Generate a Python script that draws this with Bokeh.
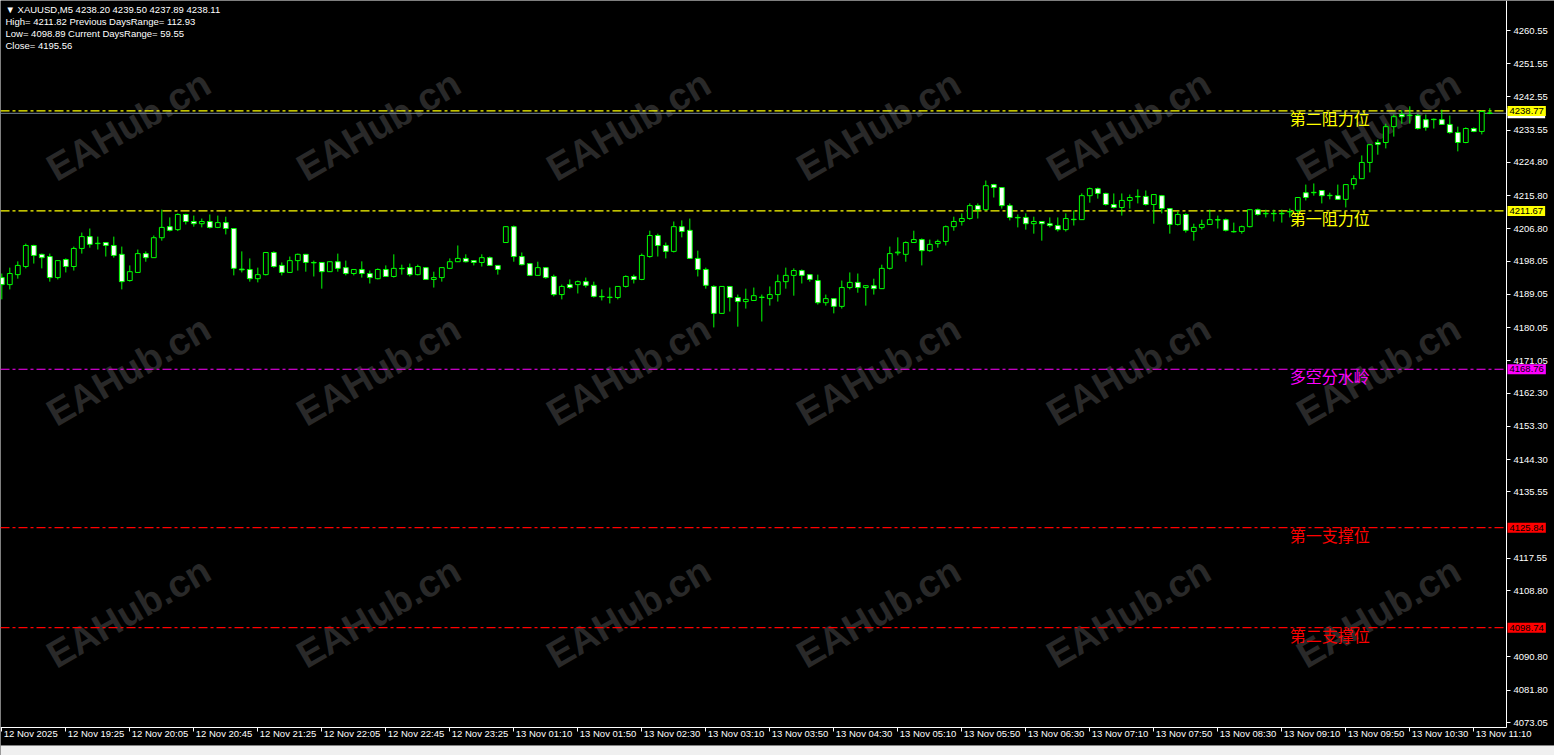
from bokeh.plotting import figure
from bokeh.models import (ColumnDataSource, FixedTicker, Label, LabelSet, Range1d,
                          PrintfTickFormatter, LinearAxis, BoxAnnotation)
from bokeh.core.properties import value
from bokeh.embed import file_html
from bokeh.resources import INLINE

# ---------------- data (XAUUSD, M5) ----------------
open_ = [
    4193.6, 4191.7, 4194.4, 4196.6, 4202.3, 4199.9, 4199.3, 4193.6, 4198.5, 4196.6,
    4201.5, 4204.7, 4202.8, 4203.1, 4202.3, 4199.9, 4192.8, 4195.0, 4200.1, 4199.0,
    4204.4, 4207.4, 4206.6, 4210.7, 4208.8, 4208.2, 4208.8, 4207.2, 4208.5, 4206.9,
    4195.9, 4195.8, 4193.3, 4194.4, 4200.4, 4196.9, 4195.0, 4198.2, 4199.9, 4197.7,
    4197.7, 4195.2, 4197.9, 4196.3, 4194.7, 4195.8, 4194.7, 4193.3, 4195.8, 4193.9,
    4196.1, 4196.3, 4194.4, 4196.3, 4193.1, 4193.6, 4196.1, 4197.9, 4198.8, 4198.2,
    4197.7, 4199.0, 4196.9, 4203.1, 4207.4, 4199.3, 4197.4, 4194.2, 4196.3, 4193.9,
    4189.0, 4191.7, 4191.7, 4192.5, 4191.5, 4188.5, 4188.2, 4188.2, 4191.2, 4193.9,
    4193.1, 4199.3, 4205.0, 4202.3, 4200.7, 4207.4, 4206.4, 4198.8, 4195.8, 4191.2,
    4183.9, 4191.2, 4188.2, 4187.1, 4187.4, 4188.2, 4187.9, 4189.0, 4192.5, 4194.2,
    4195.5, 4194.4, 4192.8, 4186.8, 4187.9, 4185.8, 4190.9, 4192.3, 4190.9, 4191.4,
    4190.6, 4196.1, 4200.3, 4199.9, 4203.1, 4203.9, 4200.9, 4202.8, 4203.4, 4207.4,
    4208.8, 4209.6, 4213.1, 4212.0, 4218.8, 4218.0, 4213.1, 4209.9, 4209.9, 4208.2,
    4208.8, 4208.2, 4207.7, 4206.6, 4209.4, 4209.3, 4215.8, 4217.7, 4216.4, 4213.4,
    4212.6, 4214.5, 4215.6, 4215.6, 4213.4, 4215.8, 4212.3, 4208.0, 4210.7, 4206.1,
    4207.2, 4208.0, 4209.3, 4209.3, 4206.1, 4206.1, 4207.4, 4212.0, 4210.9, 4211.0,
    4210.9, 4211.4, 4211.8, 4216.6, 4216.6, 4217.2, 4215.8, 4215.8, 4214.8, 4218.8,
    4220.4, 4224.8, 4230.2, 4230.2, 4234.5, 4237.8, 4237.5, 4237.5, 4236.4, 4236.5,
    4236.4, 4235.1, 4232.9, 4230.2, 4234.0, 4233.2, 4238.20,
]
high = [
    4194.7, 4196.3, 4198.0, 4202.8, 4202.5, 4200.1, 4200.1, 4198.2, 4198.8, 4202.0,
    4205.8, 4206.9, 4204.7, 4203.1, 4204.7, 4202.0, 4196.9, 4201.2, 4200.7, 4205.0,
    4212.0, 4209.9, 4211.0, 4210.9, 4210.4, 4209.6, 4210.7, 4210.4, 4210.1, 4207.0,
    4200.7, 4198.8, 4196.3, 4200.5, 4200.7, 4197.7, 4199.3, 4200.1, 4200.0, 4198.2,
    4197.8, 4198.0, 4200.1, 4198.2, 4195.8, 4198.0, 4195.5, 4196.1, 4196.9, 4199.9,
    4197.1, 4197.4, 4197.1, 4196.4, 4195.2, 4196.4, 4198.8, 4202.3, 4199.9, 4198.3,
    4199.9, 4199.3, 4197.0, 4207.5, 4207.7, 4200.4, 4197.5, 4197.9, 4196.4, 4194.4,
    4191.7, 4193.1, 4192.8, 4193.6, 4192.5, 4190.4, 4190.9, 4191.3, 4194.2, 4194.4,
    4200.1, 4206.3, 4205.5, 4203.1, 4208.8, 4209.1, 4209.6, 4200.9, 4196.3, 4191.5,
    4191.3, 4191.3, 4189.0, 4190.6, 4190.9, 4189.0, 4191.2, 4194.4, 4196.3, 4196.1,
    4195.8, 4194.5, 4194.4, 4189.0, 4188.0, 4192.8, 4195.0, 4194.7, 4191.5, 4193.3,
    4197.1, 4202.0, 4204.5, 4203.4, 4206.3, 4204.2, 4203.9, 4203.9, 4207.7, 4210.1,
    4211.0, 4213.7, 4213.7, 4219.9, 4219.0, 4218.1, 4213.7, 4210.7, 4211.0, 4210.1,
    4208.9, 4209.9, 4209.9, 4211.0, 4211.8, 4216.4, 4218.0, 4218.0, 4216.6, 4216.4,
    4216.4, 4216.1, 4217.5, 4217.2, 4216.2, 4216.0, 4212.4, 4211.5, 4211.0, 4208.2,
    4209.3, 4212.0, 4210.4, 4209.6, 4208.5, 4207.7, 4212.1, 4212.3, 4212.0, 4212.0,
    4212.0, 4212.3, 4215.4, 4218.8, 4219.1, 4217.3, 4216.6, 4218.8, 4218.9, 4221.3,
    4226.7, 4229.7, 4231.0, 4235.3, 4237.8, 4238.9, 4240.0, 4237.9, 4237.8, 4236.7,
    4239.1, 4237.5, 4234.5, 4234.3, 4234.3, 4238.9, 4239.50,
]
low = [
    4187.7, 4190.4, 4193.3, 4196.1, 4197.4, 4196.1, 4192.5, 4193.1, 4195.0, 4195.5,
    4200.1, 4201.7, 4201.2, 4199.3, 4199.0, 4190.4, 4192.5, 4194.9, 4197.9, 4198.9,
    4203.6, 4206.1, 4206.2, 4208.0, 4207.4, 4207.2, 4206.9, 4207.0, 4205.3, 4194.2,
    4195.0, 4192.5, 4192.3, 4194.2, 4196.3, 4194.2, 4194.9, 4195.5, 4195.2, 4193.9,
    4190.6, 4195.1, 4195.2, 4194.2, 4194.2, 4193.6, 4192.0, 4193.1, 4193.8, 4193.6,
    4194.4, 4193.9, 4194.2, 4193.0, 4190.9, 4192.5, 4195.9, 4197.8, 4197.7, 4196.9,
    4196.6, 4196.8, 4194.4, 4203.0, 4197.9, 4196.9, 4194.1, 4194.1, 4193.3, 4188.5,
    4187.7, 4190.6, 4189.3, 4190.9, 4188.2, 4187.4, 4186.6, 4187.7, 4190.9, 4192.0,
    4192.9, 4199.0, 4199.3, 4198.8, 4200.4, 4204.5, 4198.7, 4193.9, 4190.6, 4180.1,
    4183.8, 4184.4, 4180.3, 4185.2, 4187.3, 4181.7, 4186.0, 4187.1, 4190.6, 4188.7,
    4192.0, 4192.5, 4186.3, 4186.0, 4183.9, 4185.2, 4190.4, 4189.5, 4186.0, 4189.0,
    4190.5, 4195.8, 4199.6, 4197.9, 4203.0, 4196.9, 4200.6, 4201.7, 4202.3, 4206.3,
    4207.7, 4209.3, 4209.6, 4211.8, 4215.3, 4212.3, 4209.1, 4207.2, 4206.6, 4205.5,
    4203.6, 4207.2, 4206.1, 4206.1, 4207.7, 4209.2, 4213.9, 4215.0, 4213.1, 4212.3,
    4210.4, 4212.3, 4213.7, 4213.1, 4208.2, 4211.0, 4205.5, 4207.7, 4205.8, 4203.6,
    4206.6, 4207.9, 4206.9, 4206.1, 4205.8, 4205.5, 4207.2, 4210.4, 4209.9, 4208.8,
    4208.5, 4209.9, 4209.1, 4214.5, 4215.8, 4213.7, 4214.8, 4214.7, 4212.6, 4217.5,
    4220.3, 4222.1, 4226.9, 4228.6, 4231.8, 4235.3, 4235.3, 4233.7, 4233.4, 4234.0,
    4235.0, 4232.6, 4227.8, 4230.0, 4233.0, 4232.4, 4237.89,
]
close = [
    4191.7, 4194.7, 4196.9, 4202.3, 4199.6, 4199.0, 4193.6, 4198.2, 4196.6, 4201.5,
    4204.7, 4202.6, 4202.9, 4202.3, 4199.6, 4192.5, 4195.2, 4200.1, 4199.0, 4204.4,
    4207.2, 4206.4, 4210.7, 4208.8, 4208.2, 4208.8, 4207.2, 4208.5, 4206.9, 4196.1,
    4195.7, 4193.3, 4194.4, 4200.4, 4196.6, 4195.0, 4198.2, 4199.9, 4197.7, 4197.6,
    4195.2, 4197.9, 4196.1, 4194.7, 4195.8, 4194.7, 4193.6, 4195.8, 4193.9, 4196.1,
    4196.0, 4194.4, 4196.6, 4193.1, 4193.6, 4196.3, 4197.9, 4198.8, 4197.9, 4197.7,
    4199.0, 4196.9, 4195.8, 4207.4, 4199.3, 4197.1, 4194.2, 4196.3, 4193.6, 4189.0,
    4191.2, 4190.9, 4192.5, 4191.5, 4188.5, 4188.4, 4188.3, 4191.2, 4193.9, 4193.1,
    4199.6, 4205.0, 4202.3, 4200.7, 4207.4, 4206.1, 4198.8, 4195.8, 4191.5, 4183.9,
    4191.2, 4188.2, 4187.1, 4187.7, 4188.7, 4188.3, 4189.0, 4192.5, 4194.2, 4195.5,
    4194.2, 4193.1, 4186.8, 4187.9, 4185.8, 4190.9, 4192.3, 4190.9, 4191.4, 4190.6,
    4196.1, 4200.1, 4200.5, 4203.1, 4203.9, 4200.9, 4202.6, 4203.4, 4207.4, 4208.8,
    4209.6, 4213.1, 4212.0, 4218.5, 4218.0, 4213.1, 4209.9, 4209.8, 4208.2, 4208.8,
    4208.2, 4207.7, 4206.6, 4209.6, 4209.3, 4215.8, 4217.7, 4216.4, 4213.4, 4212.6,
    4214.5, 4215.3, 4215.5, 4213.4, 4216.1, 4212.3, 4208.0, 4210.7, 4206.4, 4207.2,
    4208.0, 4209.3, 4209.2, 4206.4, 4206.0, 4207.4, 4212.0, 4210.7, 4211.0, 4210.9,
    4211.0, 4211.5, 4215.3, 4215.3, 4216.7, 4215.8, 4215.9, 4214.8, 4218.8, 4220.4,
    4224.8, 4229.6, 4229.7, 4234.5, 4237.2, 4237.2, 4237.6, 4234.0, 4234.3, 4236.4,
    4235.1, 4232.9, 4230.2, 4234.0, 4233.2, 4238.6, 4238.11,
]

time_labels = [
    "12 Nov 2025", "12 Nov 19:25", "12 Nov 20:05", "12 Nov 20:45", "12 Nov 21:25",
    "12 Nov 22:05", "12 Nov 22:45", "12 Nov 23:25", "13 Nov 01:10", "13 Nov 01:50",
    "13 Nov 02:30", "13 Nov 03:10", "13 Nov 03:50", "13 Nov 04:30", "13 Nov 05:10",
    "13 Nov 05:50", "13 Nov 06:30", "13 Nov 07:10", "13 Nov 07:50", "13 Nov 08:30",
    "13 Nov 09:10", "13 Nov 09:50", "13 Nov 10:30", "13 Nov 11:10",
]
bars_per_label = 8

# visible price-scale labels (those hidden behind the level boxes are left out)
price_ticks = [
    4260.55, 4251.55, 4242.55, 4233.55, 4224.80, 4215.80, 4206.80, 4198.05,
    4189.05, 4180.05, 4171.05, 4162.30, 4153.30, 4144.30, 4135.55,
    4117.55, 4108.80, 4090.80, 4081.80, 4073.05,
]

level_prices = [4238.77, 4211.67, 4168.76, 4125.84, 4098.74]
level_names = ["第二阻力位", "第一阻力位", "多空分水岭", "第一支撑位", "第二支撑位"]
level_colors = ["#ffff00", "#ffff00", "#ff00ff", "#ff0000", "#ff0000"]
bid_price = 4238.11

header_lines = [
    "\u25bc XAUUSD,M5  4238.20 4239.50 4237.89 4238.11",
    "High= 4211.82 Previous DaysRange= 112.93",
    "Low= 4098.89 Current DaysRange= 59.55",
    "Close= 4195.56",
]

# ---------------- geometry ----------------
W, H = 1554, 755          # whole canvas (frame covers all of it)
CW, CH = 1506, 727        # chart area inside the frame (left/top aligned)
BX = 1 / 8.0              # bars per pixel
BY = 187.5 / 692.0        # price per pixel
X0 = -1.3 * BX
X1 = X0 + CW * BX
Y1 = 4260.55 + 30 * BY
Y0 = Y1 - CH * BY
FONT = "Liberation Sans"
FS = "9.5px"

p = figure(width=W, height=H, output_backend="svg", toolbar_location=None,
           x_range=Range1d(X0, X0 + W * BX), y_range=Range1d(Y1 - H * BY, Y1),
           x_axis_location=None, y_axis_location=None,
           min_border_left=0, min_border_top=0, min_border_right=0, min_border_bottom=0,
           background_fill_color="black", border_fill_color="black",
           outline_line_color=None)
p.grid.visible = False

# price axis (right), drawn at the chart edge
ya = LinearAxis(fixed_location=X1, bounds=(Y0, Y1),
                ticker=FixedTicker(ticks=price_ticks),
                formatter=PrintfTickFormatter(format="%.2f"),
                axis_line_color="white", major_tick_line_color="white",
                major_tick_out=4, major_tick_in=0, minor_tick_line_color=None,
                major_label_text_color="white", major_label_text_font=FONT,
                major_label_text_font_size=FS, major_label_standoff=3)
p.add_layout(ya, "right")

# time axis (below), drawn at the chart bottom
tick_bars = [i * bars_per_label for i in range(len(time_labels))]
xa = LinearAxis(fixed_location=Y0, bounds=(X0, X1),
                ticker=FixedTicker(ticks=tick_bars),
                major_label_overrides={t: "" for t in tick_bars},
                axis_line_color="white", major_tick_line_color="white",
                major_tick_out=4, major_tick_in=0, minor_tick_line_color=None)
p.add_layout(xa, "below")

# bottom tab strip
p.add_layout(BoxAnnotation(bottom=Y1 - H * BY, top=Y1 - 745 * BY, left=X0, right=X0 + W * BX,
                           fill_color="#f0f0f0", fill_alpha=1, line_color="#a0a0a0",
                           line_width=1))

# watermarks
for cx in [128, 378, 628, 878, 1128, 1378]:
    for cy in [125, 370, 612]:
        p.add_layout(Label(x=cx, y=H - cy, x_units="screen", y_units="screen",
                           text="EAHub.cn", angle=30, angle_units="deg",
                           text_align="center", text_baseline="middle", text_font=FONT,
                           text_font_size="38px", text_font_style="bold",
                           text_color="#292929", level="underlay"))

# level lines (limited to the chart area)
lsrc = ColumnDataSource(dict(y=level_prices, c=level_colors,
                             x0=[X0] * len(level_prices), x1=[X1] * len(level_prices)))
p.segment(x0="x0", y0="y", x1="x1", y1="y", line_color="c", line_width=1.2,
          line_dash="9 3 3 3", source=lsrc)
p.segment(x0=[X0], y0=[bid_price], x1=[X1], y1=[bid_price], line_color="#778899", line_width=1)

# candles
idx = list(range(len(open_)))
src = ColumnDataSource(dict(
    x=idx, o=open_, h=high, l=low, c=close,
    top=[max(o, c) for o, c in zip(open_, close)],
    bottom=[min(o, c) for o, c in zip(open_, close)],
    fill=["white" if c < o else "black" for o, c in zip(open_, close)],
))
p.segment(x0="x", y0="l", x1="x", y1="h", source=src, line_color="#00ff00", line_width=1)
p.vbar(x="x", width=0.6, top="top", bottom="bottom", source=src,
       fill_color="fill", line_color="#00ff00", line_width=1)

# level names
for price, name, col in zip(level_prices, level_names, level_colors):
    p.add_layout(Label(x=161, y=price, text=name, text_color=col,
                       text_font="Noto Sans CJK SC", text_font_size="16px",
                       text_align="left", text_baseline="top", y_offset=5))

# price boxes on the axis
p.add_layout(Label(x=X1 + BX, y=bid_price, text=f"{bid_price:.2f}", text_color="black",
                   text_font=FONT, text_font_size=FS, text_align="left",
                   text_baseline="middle", background_fill_color="white", padding=2,
                   level="overlay"))
for price, col in zip(level_prices, level_colors):
    p.add_layout(Label(x=X1 + BX, y=price, text=f"{price:.2f}", text_color="black",
                       text_font=FONT, text_font_size=FS, text_align="left",
                       text_baseline="middle", background_fill_color=col, padding=2,
                       level="overlay"))

# time labels
tsrc = ColumnDataSource(dict(x=tick_bars, y=[Y0] * len(tick_bars), text=time_labels))
p.add_layout(LabelSet(x="x", y="y", text="text", source=tsrc, text_color="white",
                      text_font=value(FONT), text_font_size=value(FS),
                      text_align="left", text_baseline="top", x_offset=2, y_offset=0))

# header
for k, line in enumerate(header_lines):
    p.add_layout(Label(x=5, y=H - 3 - 12.3 * k, x_units="screen", y_units="screen",
                       text=line, text_color="white", text_font=FONT, text_font_size=FS,
                       text_align="left", text_baseline="top"))

open("out.html", "w").write(file_html(p, INLINE))
